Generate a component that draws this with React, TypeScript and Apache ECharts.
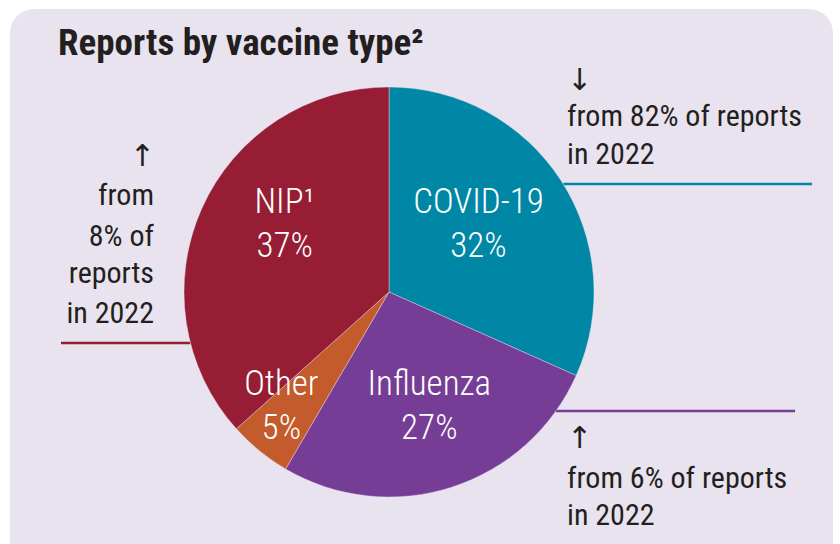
import React, { useEffect, useRef } from "react";
import * as echarts from "echarts";

const categories = ["COVID-19", "Influenza", "Other", "NIP¹"];
const shares = [32, 27, 5, 37];
const sliceColors = ["#0087A5", "#763D97", "#C35B2D", "#961D33"];
const titleText = "Reports by vaccine type²";
const notesCovid = ["↓", "from 82% of reports", "in 2022"];
const notesInfluenza = ["↑", "from 6% of reports", "in 2022"];
const notesNip = ["↑", "from", "8% of", "reports", "in 2022"];

const FONT = "'Roboto Condensed', Roboto, sans-serif";
const ARROW_FONT = "'DejaVu Sans', sans-serif";
const INK = "#231F20";

export default function App() {
  const ref = useRef<HTMLDivElement>(null);
  useEffect(() => {
    if (!ref.current) return;
    const chart = echarts.init(ref.current, undefined, { renderer: "svg" });
    const cx = 389, cy = 292, R = 205;
    const noteSize = 30;
    const lineText = (x: number, y: number, t: string, align: string, arrow = false) => ({
      type: "text",
      x, y, z: 5,
      style: {
        text: t,
        fontFamily: arrow ? ARROW_FONT : FONT,
        fontSize: arrow ? 30 : noteSize,
        fill: INK,
        align,
        verticalAlign: "middle",
      },
    });
    const edgeX = (y: number, side: number) => cx + side * Math.sqrt(R * R - (y - cy) * (y - cy));
    const offsets = [[1, -11], [8, 13], [-41, 32], [-8, -25]];
    const graphics: any[] = [
      { type: "rect", z: -10, shape: { x: 10, y: 9, width: 823, height: 580, r: 24 }, style: { fill: "#E9E3EF" } },
      { type: "text", x: 58, y: 42, z: 5, style: { text: titleText, fontFamily: FONT, fontWeight: "bold", fontSize: 37, fill: INK, verticalAlign: "middle" } },
      { type: "line", z: 1, shape: { x1: 61, y1: 343, x2: edgeX(343, -1), y2: 343 }, style: { stroke: sliceColors[3], lineWidth: 2.5 } },
      { type: "line", z: 1, shape: { x1: edgeX(184, 1), y1: 184, x2: 812, y2: 184 }, style: { stroke: sliceColors[0], lineWidth: 2.5 } },
      { type: "line", z: 1, shape: { x1: edgeX(411, 1), y1: 411, x2: 795, y2: 411 }, style: { stroke: sliceColors[1], lineWidth: 2.5 } },
      lineText(567, 79, notesCovid[0], "left", true),
      lineText(567, 115, notesCovid[1], "left"),
      lineText(567, 153, notesCovid[2], "left"),
      lineText(567, 437, notesInfluenza[0], "left", true),
      lineText(567, 477, notesInfluenza[1], "left"),
      lineText(567, 514, notesInfluenza[2], "left"),
      lineText(155, 155, notesNip[0], "right", true),
      lineText(154, 194, notesNip[1], "right"),
      lineText(154, 235, notesNip[2], "right"),
      lineText(154, 272, notesNip[3], "right"),
      lineText(154, 312, notesNip[4], "right"),
    ];
    chart.setOption({
      animation: false,
      graphic: graphics,
      series: [
        {
          type: "pie",
          center: [cx, cy],
          radius: [0, R],
          startAngle: 90,
          clockwise: true,
          silent: true,
          z: 3,
          itemStyle: { borderColor: "#E9E3EF", borderWidth: 0.4 },
          label: {
            show: true,
            position: "inside",
            formatter: (p: any) => `${p.name}\n${p.value}%`,
            color: "#FFFFFF",
            fontFamily: FONT,
            fontWeight: 300,
            fontSize: 35,
            lineHeight: 44,
            align: "center",
          },
          labelLine: { show: false },
          labelLayout: (p: any) => ({ dx: offsets[p.dataIndex][0], dy: offsets[p.dataIndex][1] }),
          data: categories.map((c, i) => ({ name: c, value: shares[i], itemStyle: { color: sliceColors[i] } })),
        },
      ],
    });
    return () => chart.dispose();
  }, []);
  return <div ref={ref} style={{ position: "absolute", left: 0, top: 0, width: 840, height: 544 }} />;
}
